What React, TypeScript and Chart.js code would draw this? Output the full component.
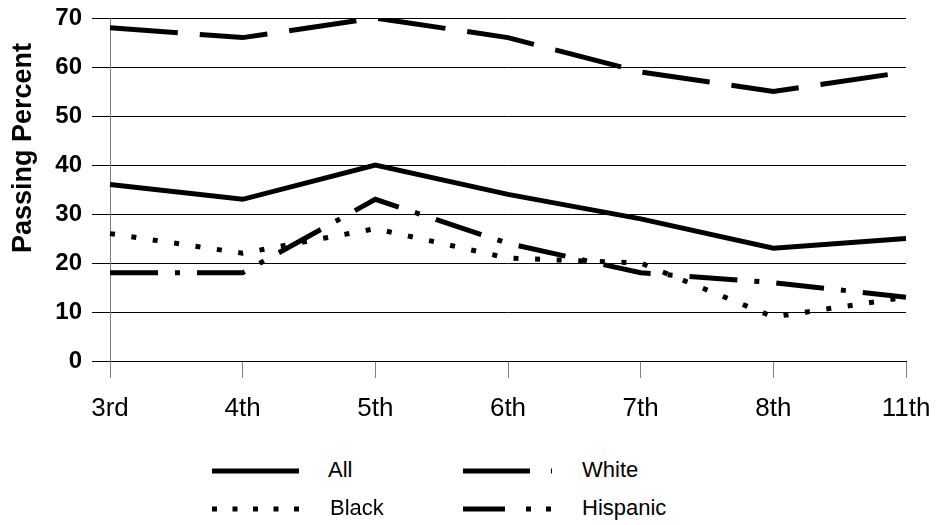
import React, { useEffect, useRef } from "react";
import { Chart, registerables } from "chart.js";

Chart.register(...registerables);

const categories = ["3rd", "4th", "5th", "6th", "7th", "8th", "11th"];
const allValues = [36, 33, 40, 34, 29, 23, 25];
const whiteValues = [68, 66, 70, 66, 59, 55, 59];
const blackValues = [26, 22, 27, 21, 20, 9, 13];
const hispanicValues = [18, 18, 33, 24, 18, 16, 13];
const yMin = 0;
const yMax = 70;
const yStep = 10;
const yTitle = "Passing Percent";

const FONT = "'Liberation Sans', Arial, Helvetica, sans-serif";
const CANVAS_H = 440;
const PLOT_LEFT = 110;
const PLOT_BOTTOM = 361;

const titlePlugin = {
  id: "yTitleCustom",
  afterDraw(chart: any) {
    const ctx = chart.ctx;
    ctx.save();
    ctx.translate(24, 148);
    ctx.rotate(-Math.PI / 2);
    ctx.font = `bold 27px ${FONT}`;
    ctx.fillStyle = "#000";
    ctx.textAlign = "center";
    ctx.textBaseline = "middle";
    ctx.fillText(yTitle, 0, 0);
    ctx.restore();
  },
};

function LegendItem(props: { x: number; y: number; dash?: string; end: number; label: string; textX: number }) {
  const { x, y, dash, end, label, textX } = props;
  return (
    <>
      <svg
        style={{ position: "absolute", left: 0, top: 0, overflow: "visible" }}
        width={1}
        height={1}
      >
        <line x1={x} y1={y} x2={end} y2={y} stroke="#000" strokeWidth={5} strokeDasharray={dash} />
      </svg>
      <div
        style={{
          position: "absolute",
          left: textX,
          top: y - 14,
          height: 28,
          lineHeight: "28px",
          font: `22px ${FONT}`,
          color: "#000",
          whiteSpace: "nowrap",
        }}
      >
        {label}
      </div>
    </>
  );
}

export default function App() {
  const canvasRef = useRef<HTMLCanvasElement | null>(null);

  useEffect(() => {
    const canvas = canvasRef.current;
    if (!canvas) return;
    const common = {
      borderColor: "#000",
      backgroundColor: "#000",
      borderWidth: 5,
      pointRadius: 0,
      pointHoverRadius: 0,
      tension: 0,
      fill: false,
      borderCapStyle: "butt" as const,
      borderJoinStyle: "miter" as const,
    };
    const chart = new Chart(canvas, {
      type: "line",
      data: {
        labels: categories,
        datasets: [
          { label: "All", data: allValues, ...common },
          { label: "White", data: whiteValues, ...common, borderDash: [68, 22] },
          { label: "Black", data: blackValues, ...common, borderDash: [5, 16.6] },
          { label: "Hispanic", data: hispanicValues, ...common, borderDash: [48, 17, 5, 17] },
        ],
      },
      options: {
        responsive: false,
        animation: false,
        devicePixelRatio: 1,
        layout: { padding: { top: 18, right: 33, left: 0, bottom: 0 } },
        plugins: {
          legend: { display: false },
          tooltip: { enabled: false },
          title: { display: false },
        },
        scales: {
          x: {
            type: "category",
            offset: false,
            grid: {
              display: true,
              drawOnChartArea: false,
              drawTicks: true,
              tickLength: 17,
              color: "#808080",
              lineWidth: 1,
            },
            border: { display: true, color: "#000", width: 1 },
            ticks: {
              color: "#000",
              font: { family: FONT, size: 26, weight: "normal" },
              padding: 15,
              autoSkip: false,
              maxRotation: 0,
              minRotation: 0,
            },
            afterFit(scale: any) {
              scale.height = CANVAS_H - PLOT_BOTTOM;
              scale.paddingLeft = 0;
              scale.paddingRight = 0;
            },
          },
          y: {
            type: "linear",
            min: yMin,
            max: yMax,
            grid: {
              color: "#000",
              lineWidth: 1,
              drawTicks: true,
              tickLength: 18,
            },
            border: { display: true, color: "#808080", width: 1 },
            ticks: {
              stepSize: yStep,
              color: "#000",
              font: { family: FONT, size: 24, weight: "bold" },
              padding: 10,
            },
            title: { display: false },
            afterFit(scale: any) {
              scale.width = PLOT_LEFT;
              scale.paddingTop = 0;
              scale.paddingBottom = 0;
            },
          },
        },
      },
      plugins: [titlePlugin],
    });
    return () => chart.destroy();
  }, []);

  return (
    <div
      style={{
        position: "fixed",
        left: 0,
        top: 0,
        width: 939,
        height: 525,
        background: "#fff",
        overflow: "hidden",
      }}
    >
      <canvas
        ref={canvasRef}
        width={939}
        height={CANVAS_H}
        style={{ position: "absolute", left: 0, top: 0, width: 939, height: CANVAS_H }}
      />
      <LegendItem x={212} end={299} y={471} label="All" textX={328} />
      <LegendItem x={463} end={552} y={471} dash="67 21" label="White" textX={582} />
      <LegendItem x={212} end={299} y={509} dash="5 15.5" label="Black" textX={330} />
      <LegendItem x={463} end={552} y={509} dash="42 21 5 15 5 100" label="Hispanic" textX={582} />
    </div>
  );
}
